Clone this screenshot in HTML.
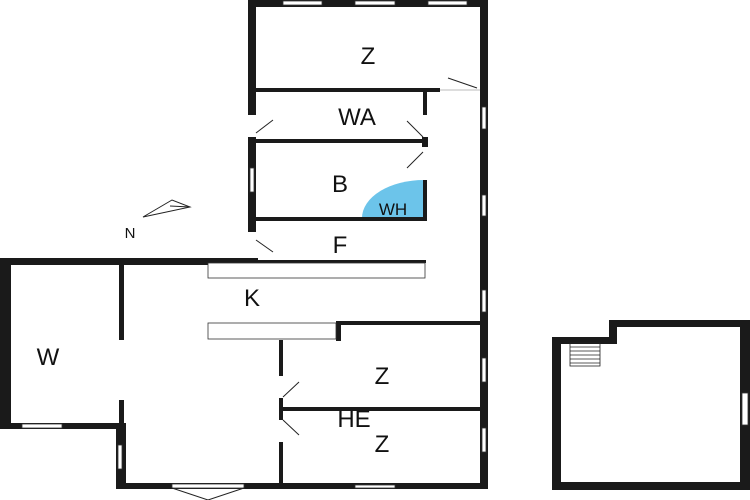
<!DOCTYPE html>
<html><head><style>
html,body{margin:0;padding:0;background:#fff}
svg{display:block}
text{font-family:"Liberation Sans",sans-serif;fill:#111}
</style></head><body>
<svg width="750" height="500" viewBox="0 0 750 500" xmlns="http://www.w3.org/2000/svg">
<rect width="750" height="500" fill="#fff"/>
<path d="M424,218 L362,218 A62,38 0 0 1 424,180 Z" fill="#6cc4ea"/>
<g fill="#1a1a1a">
<rect x="248" y="0" width="240" height="7"/>
<rect x="480" y="0" width="8" height="488"/>
<rect x="248" y="0" width="8" height="115"/>
<rect x="248" y="137" width="8" height="95"/>
<rect x="256" y="88" width="184" height="4"/>
<rect x="256" y="139" width="171" height="4"/>
<rect x="256" y="217" width="171" height="4"/>
<rect x="423" y="90" width="4" height="25"/>
<rect x="422" y="137" width="6" height="10"/>
<rect x="423" y="180" width="4" height="41"/>
<rect x="0" y="258" width="258" height="7"/>
<rect x="246" y="258" width="10" height="7"/>
<rect x="256" y="260" width="170" height="3"/>
<rect x="336" y="321" width="148" height="4"/>
<rect x="336" y="321" width="5" height="20"/>
<rect x="0" y="258" width="11" height="171"/>
<rect x="0" y="423" width="126" height="6"/>
<rect x="119" y="265" width="5" height="75"/>
<rect x="119" y="400" width="5" height="28"/>
<rect x="116" y="423" width="10" height="66"/>
<rect x="116" y="483" width="372" height="6"/>
<rect x="279" y="340" width="4" height="36"/>
<rect x="279" y="398" width="4" height="22"/>
<rect x="279" y="442" width="4" height="46"/>
<rect x="283" y="407" width="197" height="4"/>
<rect x="552" y="337" width="64" height="7"/>
<rect x="552" y="337" width="9" height="153"/>
<rect x="609" y="320" width="8" height="24"/>
<rect x="609" y="320" width="141" height="7"/>
<rect x="740" y="320" width="10" height="170"/>
<rect x="552" y="482" width="198" height="8"/>
</g>
<g fill="#fff" stroke="#333" stroke-width="0.8">
<rect x="283" y="1" width="39" height="4"/>
<rect x="355" y="1" width="40" height="4"/>
<rect x="428" y="1" width="39" height="4"/>
<rect x="482" y="107" width="4" height="22"/>
<rect x="482" y="195" width="4" height="21"/>
<rect x="482" y="290" width="4" height="22"/>
<rect x="482" y="358" width="4" height="24"/>
<rect x="482" y="428" width="4" height="24"/>
<rect x="250" y="168" width="4" height="24"/>
<rect x="22" y="424" width="40" height="4"/>
<rect x="118" y="445" width="4" height="24"/>
<rect x="355" y="485" width="40" height="3"/>
<rect x="742" y="393" width="6" height="32"/>
<rect x="172" y="484" width="72" height="4"/>
<rect x="208" y="263" width="217" height="15"/>
<rect x="208" y="323" width="128" height="16"/>
</g>
<g stroke="#222" stroke-width="1" fill="none">
<path d="M172,488 L208,500 L244,488"/>
<path d="M448,78 L477,88"/><path d="M440,90 L480,90" stroke="#bbb"/>
<path d="M256,133 L273,120"/>
<path d="M407,121 L423,137"/>
<path d="M407,168 L423,152"/>
<path d="M256,240 L273,252"/>
<path d="M283,397 L299,382"/>
<path d="M283,420 L299,435"/>
<path d="M143,217 L190,207 L172,200 Z"/>
<path d="M170,206 L190,207"/>
</g>
<g stroke="#222" stroke-width="0.8">
<rect x="570" y="343" width="30" height="23" fill="none"/>
<path d="M570,347H600M570,351H600M570,355H600M570,359H600M570,363H600"/>
</g>
<g font-size="24" text-anchor="middle">
<text x="368" y="64">Z</text>
<text x="357" y="125">WA</text>
<text x="340" y="192">B</text>
<text x="340" y="253">F</text>
<text x="252" y="306">K</text>
<text x="48" y="365">W</text>
<text x="382" y="384">Z</text>
<text x="354" y="427">HE</text>
<text x="382" y="452">Z</text>
</g>
<text x="393" y="215" font-size="17" text-anchor="middle">WH</text>
<text x="130" y="238" font-size="15" text-anchor="middle">N</text>
</svg>
</body></html>
